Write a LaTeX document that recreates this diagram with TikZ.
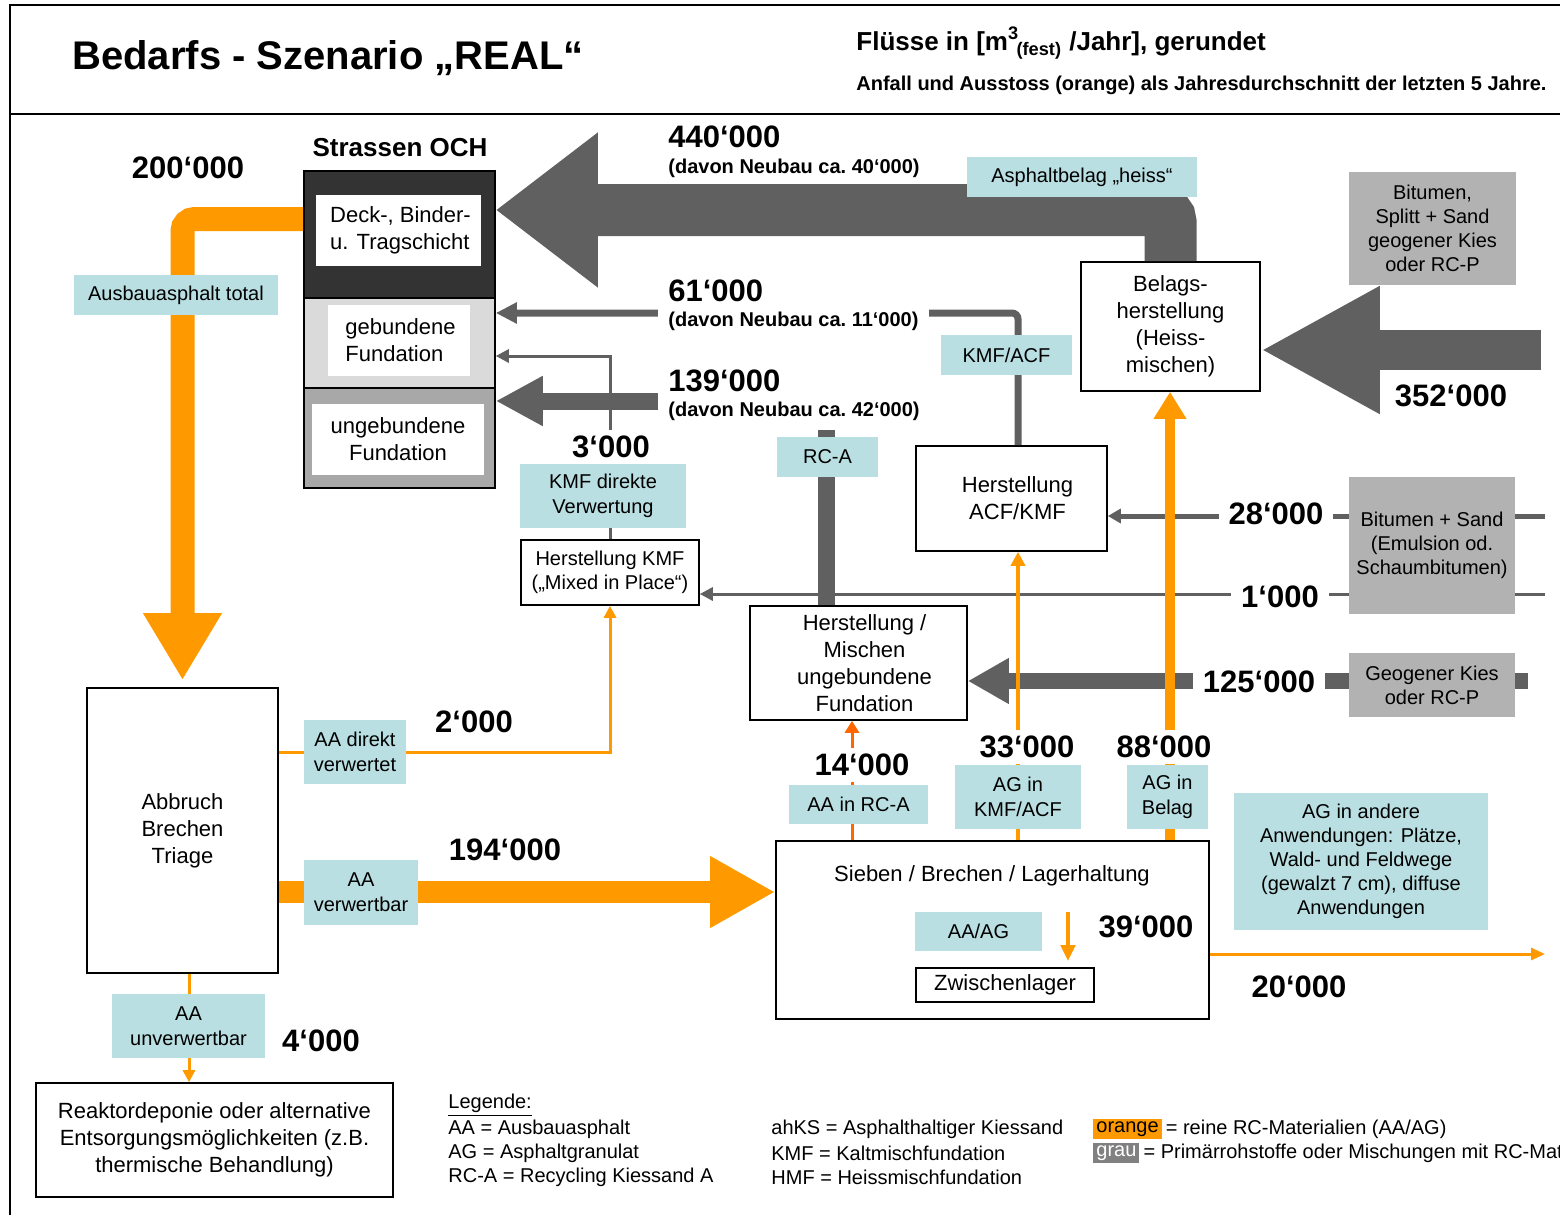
\documentclass[tikz,border=0pt]{standalone}
\usepackage{fontspec}
\setmainfont{Liberation Sans}
\usetikzlibrary{arrows.meta}

\definecolor{flowgray}{HTML}{606060}
\definecolor{floworange}{HTML}{FF9900}
\definecolor{flowred}{HTML}{FF6600}
\definecolor{lblteal}{HTML}{B9DFE2}
\definecolor{srcgray}{HTML}{B2B2B2}
\definecolor{layerdark}{HTML}{333333}
\definecolor{layerlight}{HTML}{DADADA}
\definecolor{layermid}{HTML}{A8A8A8}
\definecolor{legendgray}{HTML}{808080}

\begin{document}
\begin{tikzpicture}[x=0.5pt, y=-0.5pt,
   every node/.style={font=\fontsize{11}{13.5}\selectfont, align=center, inner sep=0pt},
   proc/.style={draw, thick, fill=white},
   lbl/.style={fill=lblteal, font=\fontsize{10}{12.5}\selectfont},
   src/.style={fill=srcgray, font=\fontsize{10}{12}\selectfont},
   num/.style={font=\fontsize{15.5}{18}\selectfont\bfseries, fill=white, inner sep=3pt, inner xsep=5pt},
   davon/.style={font=\fontsize{10}{12}\selectfont\bfseries, fill=white, inner sep=3pt, inner xsep=5pt, anchor=west},
   legtext/.style={font=\fontsize{10}{12}\selectfont, anchor=west}]

\useasboundingbox (0,0) rectangle (1560,1215);
\clip (0,0) rectangle (1560,1215);

% Rahmen und Kopf
\draw[line width=1pt] (10,1215) -- (10,5) -- (1560,5);
\draw[line width=1pt] (10,114) -- (1560,114);
\node[anchor=west, font=\fontsize{20}{24}\selectfont\bfseries] (titel) at (72,58) {Bedarfs - Szenario „REAL“};
\node[anchor=west, font=\fontsize{13}{16}\selectfont\bfseries] (einheit) at (856,43) {Flüsse in [m\textsuperscript{\raisebox{0.25ex}{3}}\kern-0.1em\textsubscript{(fest)} /Jahr], gerundet};
\node[anchor=west, font=\fontsize{10}{12}\selectfont\bfseries] (anfall) at (856,85) {Anfall und Ausstoss (orange) als Jahresdurchschnitt der letzten 5 Jahre.};

% Strassen OCH
\node[font=\fontsize{13}{16}\selectfont\bfseries] (och) at (400,148) {Strassen OCH};
\node[draw, thick, fill=layerdark, minimum width=95.5pt, minimum height=63.5pt] (deck) at (399.5,234.5) {};
\node[draw, thick, fill=layerlight, minimum width=95.5pt, minimum height=45pt] (gebund) at (399.5,343) {};
\node[draw, thick, fill=layermid, minimum width=95.5pt, minimum height=50pt] (ungebund) at (399.5,438) {};
\node[fill=white, minimum width=82.5pt, minimum height=35.5pt, align=left] (decktxt) at (398.5,230.5) {\hspace*{2pt}Deck-, Binder-\\\hspace*{2pt}u. Tragschicht};
\node[fill=white, minimum width=71pt, minimum height=35.5pt, align=left] (gebundtxt) at (399,340.5) {\hspace*{1.5pt}gebundene\\\hspace*{1.5pt}Fundation};
\node[fill=white, minimum width=86pt, minimum height=35.5pt] (ungebundtxt) at (398,439.5) {ungebundene\\Fundation};

% Prozesse
\node[proc, minimum width=89.5pt, minimum height=64.5pt] (belag) at (1170.5,326.5) {Belags-\\herstellung\\(Heiss-\\mischen)};
\node[proc, minimum width=95.5pt, minimum height=52.5pt] (acf) at (1011.5,498.5) {\hspace*{6pt}Herstellung\\\hspace*{6pt}ACF/KMF};
\node[proc, font=\fontsize{10}{12}\selectfont, minimum width=89pt, minimum height=32.5pt] (kmf) at (610,572.5) {Herstellung KMF\\(„Mixed in Place“)};
\node[proc, minimum width=108.5pt, minimum height=57pt] (misch) at (858.5,663) {\hspace*{6pt}Herstellung /\\\hspace*{6pt}Mischen\\\hspace*{6pt}ungebundene\\\hspace*{6pt}Fundation};
\node[proc, minimum width=216.5pt, minimum height=89pt] (sieben) at (992.5,930) {};
\node (siebentxt) at (992,876) {Sieben / Brechen / Lagerhaltung};
\node[lbl, minimum width=63.5pt, minimum height=19.5pt] (aaag) at (978.5,931.5) {AA/AG};
\node[proc, minimum width=89pt, minimum height=17pt] (zwischen) at (1005,985) {Zwischenlager};
\node[proc, minimum width=95.5pt, minimum height=142.5pt] (abbruch) at (182.5,830.5) {Abbruch\\Brechen\\Triage};
\node[proc, minimum width=178.5pt, minimum height=57pt] (reaktor) at (214.5,1140) {Reaktordeponie oder alternative\\Entsorgungsmöglichkeiten (z.B.\\thermische Behandlung)};

% Primaerrohstoffe
\node[src, minimum width=83.5pt, minimum height=56.5pt] (bitsplitt) at (1432.5,228.5) {Bitumen,\\Splitt + Sand\\geogener Kies\\oder RC-P};
\node[src, minimum width=83pt, minimum height=68.5pt] (bitsand) at (1432,545.5) {Bitumen + Sand\\(Emulsion od.\\Schaumbitumen)};
\node[src, minimum width=83pt, minimum height=32pt] (geokies) at (1432,685) {Geogener Kies\\oder RC-P};

\coordinate (in352) at (1541,350);
\coordinate (in28) at (1545,516);
\coordinate (in1) at (1545,594);
\coordinate (in125) at (1528,681);
\coordinate (out20) at (1545,954);

% graue Fluesse
\draw[flowgray, line width=26pt, rounded corners=6pt, -{Triangle[length=51pt,width=74pt]}] (belag.north) |- ([yshift=12.25pt]deck.east);
\draw[flowgray, line width=20pt, -{Triangle[length=59.5pt,width=59.5pt]}] (in352) -- ([yshift=-11.75pt]belag.east);
\draw[flowgray, line width=3.5pt, rounded corners=3pt, -{Triangle[length=10.5pt,width=10pt]}] ([xshift=3.25pt]acf.north) |- ([yshift=15pt]gebund.east);
\draw[flowgray, line width=1.5pt, -{Triangle[length=6.5pt,width=6.5pt]}] (kmf.north) |- ([yshift=-6.5pt]gebund.east);
\draw[flowgray, line width=8.5pt, -{Triangle[length=23.5pt,width=23.5pt]}] ([xshift=-16.25pt]misch.north) |- ([yshift=18.5pt]ungebund.east);
\draw[flowgray, line width=2.5pt] (in28) -- (bitsand.east |- in28);
\draw[flowgray, line width=2.5pt, -{Triangle[length=6.5pt,width=7pt]}] (bitsand.west |- in28) -- ([yshift=-8.75pt]acf.east);
\draw[flowgray, line width=1.5pt] (in1) -- (bitsand.east |- in1);
\draw[flowgray, line width=1.5pt, -{Triangle[length=6.5pt,width=6.5pt]}] (bitsand.west |- in1) -- ([yshift=-10.75pt]kmf.east);
\draw[flowgray, line width=8pt] (in125) -- (geokies.east |- in125);
\draw[flowgray, line width=8pt, -{Triangle[length=20.5pt,width=21.5pt]}] (geokies.west |- in125) -- ([yshift=-9pt]misch.east);

% orange Fluesse
\draw[floworange, line width=12pt, rounded corners=6pt, shorten >=3.5pt, -{Triangle[length=33.5pt,width=37pt]}] ([yshift=7.75pt]deck.west) -| (abbruch.north);
\draw[floworange, line width=1.5pt, -{Triangle[length=6pt,width=6pt]}] ([yshift=39.25pt]abbruch.east) -| (kmf.south);
\draw[floworange, line width=11pt, -{Triangle[length=32.5pt,width=33.5pt]}] ([yshift=-30.75pt]abbruch.east) -- ([yshift=19pt]sieben.west);
\draw[floworange, line width=1.5pt, -{Triangle[length=6pt,width=6pt]}] ([xshift=3.25pt]abbruch.south) -- ([xshift=3.25pt]abbruch.south |- reaktor.north);
\draw[flowred, line width=1.5pt, -{Triangle[length=6pt,width=7pt]}] ([xshift=-70.25pt]sieben.north) -- ([xshift=-70.25pt]sieben.north |- misch.south);
\draw[floworange, line width=2pt, -{Triangle[length=7pt,width=7pt]}] ([xshift=12.75pt]sieben.north) -- ([xshift=12.75pt]sieben.north |- acf.south);
\draw[floworange, line width=5pt, -{Triangle[length=13.5pt,width=15.5pt]}] ([xshift=88.75pt]sieben.north) -- ([xshift=88.75pt]sieben.north |- belag.south);
\draw[floworange, line width=1.5pt, -{Triangle[length=7pt,width=6pt]}] ([yshift=-12pt]sieben.east) -- (out20);
\draw[floworange, line width=2pt, -{Triangle[length=8pt,width=7pt]}] ([xshift=31.5pt]zwischen.north |- aaag.north) -- ([xshift=31.5pt,yshift=3pt]zwischen.north);

% Beschriftungen
\node[lbl, minimum width=102pt, minimum height=20pt] (ausbau) at (176,295) {Ausbauasphalt total};
\node[lbl, minimum width=115pt, minimum height=20pt] (heiss) at (1082,177) {Asphaltbelag „heiss“};
\node[lbl, minimum width=65.5pt, minimum height=20pt] (kmfacf) at (1006.5,355) {KMF/ACF};
\node[lbl, minimum width=83pt, minimum height=32pt] (kmfdir) at (603,496) {KMF direkte\\Verwertung};
\node[lbl, minimum width=50.5pt, minimum height=20pt] (rca) at (827.5,457) {RC-A};
\node[lbl, minimum width=51pt, minimum height=32pt] (aadir) at (355,752) {AA direkt\\verwertet};
\node[lbl, minimum width=57pt, minimum height=32.5pt] (aaverw) at (361,892.5) {AA\\verwertbar};
\node[lbl, minimum width=76.5pt, minimum height=32pt] (aaunv) at (188.5,1026) {AA\\unverwertbar};
\node[lbl, minimum width=69.5pt, minimum height=19.5pt] (aarca) at (858.5,804.5) {AA in RC-A};
\node[lbl, minimum width=63pt, minimum height=32pt] (agkmf) at (1018,797) {AG in\\KMF/ACF};
\node[lbl, minimum width=40.5pt, minimum height=32pt] (agbelag) at (1167.5,797) {AG in\\Belag};
\node[lbl, font=\fontsize{10}{12}\selectfont, minimum width=127pt, minimum height=68.5pt] (agand) at (1361,861.5) {AG in andere\\Anwendungen: Plätze,\\Wald- und Feldwege\\(gewalzt 7 cm), diffuse\\Anwendungen};

% Mengen
\node[num] (n200) at (188,168) {200‘000};
\node[num, fill=none, anchor=west] (n440) at (658,137) {440‘000};
\node[davon, fill=none] (d440) at (658,168) {(davon Neubau ca.\ 40‘000)};
\node[num, anchor=west] (n61) at (658,291) {61‘000};
\node[davon] (d61) at (658,321) {(davon Neubau ca.\ 11‘000)};
\node[num, anchor=west] (n139) at (658,381) {139‘000};
\node[davon, inner ysep=5pt] (d139) at (658,411) {(davon Neubau ca.\ 42‘000)};
\node[num] (n3) at (611,447) {3‘000};
\node[num, fill=none] (n352) at (1451,396) {352‘000};
\node[num] (n28) at (1276,514) {28‘000};
\node[num] (n1) at (1280,597) {1‘000};
\node[num] (n125) at (1259,682) {125‘000};
\node[num, fill=none] (n2) at (474,722) {2‘000};
\node[num, fill=none] (n194) at (505,850) {194‘000};
\node[num] (n14) at (862,765) {14‘000};
\node[num] (n33) at (1027,747) {33‘000};
\node[num] (n88) at (1164,747) {88‘000};
\node[num, fill=none] (n39) at (1146,927) {39‘000};
\node[num, fill=none] (n20) at (1299,987) {20‘000};
\node[num, fill=none] (n4) at (321,1041) {4‘000};

% Legende
\node[legtext] (leg) at (448,1105) {\underline{Legende:}};
\node[legtext] (legaa) at (448,1129) {AA = Ausbauasphalt};
\node[legtext] (legag) at (448,1153) {AG = Asphaltgranulat};
\node[legtext] (legrca) at (448,1177) {RC-A = Recycling Kiessand A};
\node[legtext] (legahks) at (771,1129) {ahKS = Asphalthaltiger Kiessand};
\node[legtext] (legkmf) at (771,1153) {KMF = Kaltmischfundation};
\node[legtext] (leghmf) at (771,1177) {HMF = Heissmischfundation};
\node[legtext, fill=floworange, inner sep=1.5pt] (legor) at (1093,1129) {orange};
\node[legtext] (legortxt) at (legor.east) {\,= reine RC-Materialien (AA/AG)};
\node[legtext, fill=legendgray, text=white, inner sep=1.5pt] (leggr) at (1093,1153) {grau};
\node[legtext] (leggrtxt) at (leggr.east) {\,= Primärrohstoffe oder Mischungen mit RC-Materialien};

\end{tikzpicture}
\end{document}
